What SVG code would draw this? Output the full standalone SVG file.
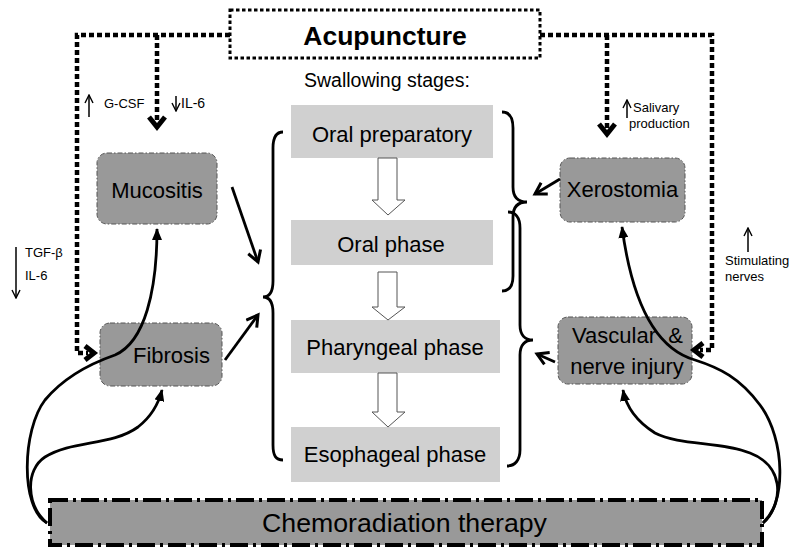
<svg xmlns="http://www.w3.org/2000/svg" width="800" height="557" viewBox="0 0 800 557">
<defs>
<style>
.t{font-family:"Liberation Sans",Arial,sans-serif;fill:#000}
.stage{fill:#d0d0d0}
.node{fill:#999;stroke:#555;stroke-width:1;stroke-dasharray:5 2 1.5 2}
.dot{fill:none;stroke:#000;stroke-width:4.5;stroke-dasharray:5 3}
.conn{fill:none;stroke:#000;stroke-width:2.8}
.thin{fill:none;stroke:#000;stroke-width:1.5}
.brace{fill:none;stroke:#000;stroke-width:2.8}
.hollow{fill:#fff;stroke:#555;stroke-width:1}
.chevd{fill:none;stroke:#000;stroke-width:5}
</style>
<marker id="chev" markerUnits="userSpaceOnUse" viewBox="0 0 16 16" refX="13" refY="8" markerWidth="16" markerHeight="16" orient="auto">
<path d="M2,1.5 L13,8 L2,14.5" fill="none" stroke="#000" stroke-width="3"/>
</marker>
<marker id="tri" markerUnits="userSpaceOnUse" viewBox="0 0 12 10" refX="11" refY="5" markerWidth="12" markerHeight="10" orient="auto">
<path d="M0,0 L12,5 L0,10 z" fill="#000"/>
</marker>
<marker id="small" markerUnits="userSpaceOnUse" viewBox="0 0 10 10" refX="9" refY="5" markerWidth="10" markerHeight="10" orient="auto">
<path d="M1,1 L9,5 L1,9" fill="none" stroke="#000" stroke-width="1.4"/>
</marker>
</defs>

<g id="acupuncture">
<rect x="230" y="10" width="310" height="48" fill="#fff" stroke="#000" stroke-width="3" stroke-dasharray="3.5 2.5"/>
<text class="t" x="385" y="45" font-size="26.5" font-weight="bold" text-anchor="middle">Acupuncture</text>
</g>

<text class="t" x="304" y="87" font-size="19.5">Swallowing stages:</text>

<g id="oral-preparatory">
<rect class="stage" x="291" y="105" width="202" height="53"/>
<text class="t" x="392" y="142" font-size="22" text-anchor="middle">Oral preparatory</text>
</g>
<g id="oral-phase">
<rect class="stage" x="291" y="220" width="202" height="45"/>
<text class="t" x="391" y="252" font-size="22" text-anchor="middle">Oral phase</text>
</g>
<g id="pharyngeal-phase">
<rect class="stage" x="291" y="320" width="209" height="53"/>
<text class="t" x="395" y="355" font-size="22" text-anchor="middle">Pharyngeal phase</text>
</g>
<g id="esophageal-phase">
<rect class="stage" x="291" y="427" width="209" height="55"/>
<text class="t" x="395" y="462" font-size="22" text-anchor="middle">Esophageal phase</text>
</g>

<g id="mucositis">
<rect class="node" x="97" y="153" width="120" height="71" rx="10"/>
<text class="t" x="157" y="198" font-size="22" text-anchor="middle">Mucositis</text>
</g>
<g id="fibrosis">
<rect class="node" x="100" y="323" width="122" height="63" rx="10"/>
<text class="t" x="171.5" y="363" font-size="22" text-anchor="middle">Fibrosis</text>
</g>
<g id="xerostomia">
<rect class="node" x="560" y="158" width="125" height="64" rx="10"/>
<text class="t" x="622.5" y="197" font-size="22" text-anchor="middle">Xerostomia</text>
</g>
<g id="vascular">
<rect class="node" x="558" y="317" width="134" height="67" rx="10"/>
<text class="t" x="572" y="343" font-size="22" xml:space="preserve">Vascular  &amp;</text>
<text class="t" x="627" y="374" font-size="22" text-anchor="middle">nerve injury</text>
</g>

<g id="chemoradiation">
<rect x="50" y="500" width="712" height="45" fill="#999" stroke="#000" stroke-width="4" stroke-dasharray="18 5 3 5"/>
<text class="t" x="404.5" y="532" font-size="26.7" text-anchor="middle">Chemoradiation therapy</text>
</g>

<g id="labels">
<line class="thin" x1="89" y1="117" x2="89" y2="95" marker-end="url(#small)"/>
<text class="t" x="104" y="108" font-size="13">G-CSF</text>
<line class="thin" x1="176" y1="96" x2="176" y2="111" marker-end="url(#small)"/>
<text class="t" x="181" y="108" font-size="14">IL-6</text>
<line class="thin" x1="16" y1="247" x2="16" y2="298" marker-end="url(#small)"/>
<text class="t" x="25" y="257" font-size="13">TGF-β</text>
<text class="t" x="25" y="280" font-size="13">IL-6</text>
<line class="thin" x1="627" y1="118" x2="627" y2="100" marker-end="url(#small)"/>
<text class="t" x="633" y="112" font-size="13">Salivary</text>
<text class="t" x="629" y="128" font-size="13">production</text>
<line class="thin" x1="748" y1="252" x2="748" y2="228" marker-end="url(#small)"/>
<text class="t" x="725" y="265" font-size="13">Stimulating</text>
<text class="t" x="725" y="281" font-size="13">nerves</text>
</g>

<g id="connectors">
<!-- hollow stage arrows -->
<polygon class="hollow" points="378,158 397,158 397,200 405,200 388,215 372,200 378,200"/>
<polygon class="hollow" points="378,272 397,272 397,307 405,307 388,320 372,307 378,307"/>
<polygon class="hollow" points="378,373 397,373 397,412 405,412 388,427 372,412 378,412"/>

<!-- braces -->
<path class="brace" d="M283,132 C276,132 273,137 273,148 L273,281 C273,292 269,297 263,297 C269,297 273,302 273,313 L273,445 C273,456 276,460 283,460"/>
<path class="brace" d="M502,112 C509,112 513,117 513,128 L513,187 C513,197 518,202 527,202 C518,202 513,207 513,217 L513,276 C513,286 509,291 502,291"/>
<path class="brace" d="M508,212 C515,212 520,217 520,228 L520,325 C520,335 525,340 533,340 C525,340 520,345 520,355 L520,450 C520,460 515,466 507,466"/>

<!-- dotted acupuncture lines -->
<path class="dot" d="M230,35 H77 V353 H88"/>
<path class="dot" d="M157,35 V122"/>
<path class="dot" d="M540,35 H712 V350 H700"/>
<path class="dot" d="M607,35 V128"/>
<path class="chevd" d="M149,117 L157,127 L165,117"/>
<path class="chevd" d="M599,124 L607,134 L615,124"/>
<path class="chevd" d="M85,346 L94,353 L85,360"/>
<path class="chevd" d="M703,343 L694,350 L703,357"/>

<!-- straight connectors to braces -->
<line class="conn" x1="232" y1="187" x2="258" y2="262" marker-end="url(#chev)"/>
<line class="conn" x1="225" y1="360" x2="258" y2="315" marker-end="url(#chev)"/>
<line class="conn" x1="560" y1="179" x2="535" y2="194" marker-end="url(#chev)"/>
<line class="conn" x1="555" y1="362" x2="537" y2="354" marker-end="url(#chev)"/>

<!-- chemoradiation curves -->
<path class="conn" d="M47,523 C20,508 22,430 45,400 C65,376 92,363 115,355 C145,342 157,290 157,229" marker-end="url(#tri)"/>
<path class="conn" d="M47,523 C26,505 25,470 45,457 C72,440 112,446 138,427 C152,416 159,402 162,390" marker-end="url(#tri)"/>
<path class="conn" d="M763,523 C786,505 786,440 760,405 C740,378 720,368 695,360 C660,350 633,310 622,227" marker-end="url(#tri)"/>
<path class="conn" d="M763,523 C786,500 782,465 750,453 C720,441 680,446 655,433 C636,421 626,406 623,390" marker-end="url(#tri)"/>
</g>
</svg>
